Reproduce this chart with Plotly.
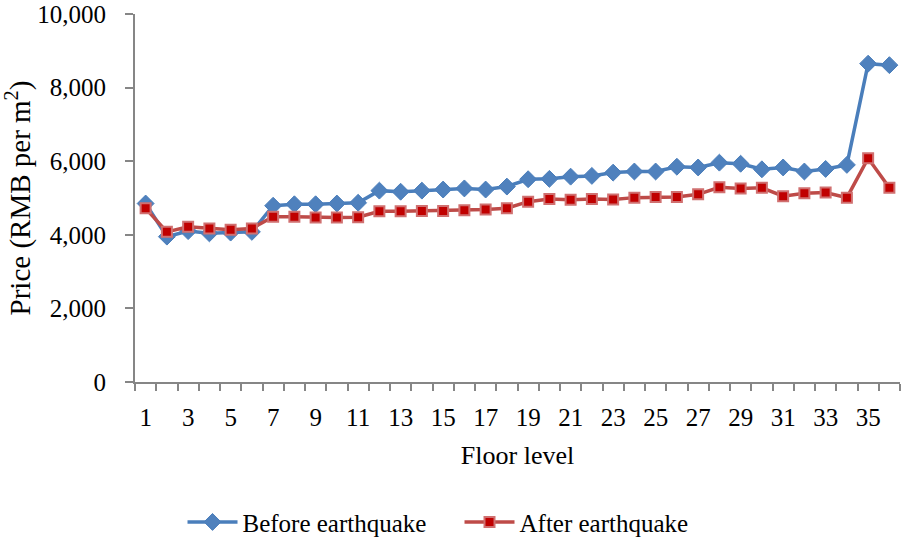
import plotly.graph_objects as go

# Floor levels and average prices (RMB per m²)
floors = list(range(1, 37))
before_quake = [4850, 3950, 4100, 4040, 4060, 4080, 4790, 4830, 4830, 4850, 4870, 5200,
                5170, 5200, 5230, 5260, 5230, 5310, 5510, 5520, 5580, 5600, 5690, 5720,
                5720, 5850, 5830, 5960, 5930, 5780, 5830, 5720, 5790, 5900, 8650, 8610]
after_quake = [4720, 4080, 4220, 4170, 4140, 4170, 4490, 4490, 4470, 4470, 4480, 4640,
               4640, 4650, 4650, 4670, 4690, 4720, 4900, 4970, 4950, 4970, 4960, 5010,
               5030, 5030, 5100, 5290, 5260, 5280, 5050, 5130, 5150, 5010, 6080, 5280]
x_labels = [str(f) for f in floors if f % 2 == 1]
y_ticks = [0, 2000, 4000, 6000, 8000, 10000]

FONT = "Liberation Serif, Times New Roman, serif"
AXIS = "#868686"

fig = go.Figure()
fig.add_trace(go.Scatter(
    x=floors, y=before_quake, mode="lines+markers", name="Before earthquake",
    line=dict(color="#4A7EBB", width=3.5),
    marker=dict(symbol="diamond", size=13, color="#4F81BD",
                line=dict(color="#4A7EBB", width=1)),
))
fig.add_trace(go.Scatter(
    x=floors, y=after_quake, mode="lines+markers", name="After earthquake",
    line=dict(color="#BE4B48", width=3.5),
    marker=dict(symbol="square", size=10, color="#C00000",
                line=dict(color="#D07070", width=2)),
))

fig.update_layout(
    width=901, height=540,
    margin=dict(l=135, r=1, t=14, b=158, autoexpand=False),
    paper_bgcolor="white", plot_bgcolor="white",
    font=dict(family=FONT, size=25, color="black"),
    showlegend=True,
    legend=dict(orientation="h", xref="container", yref="container",
                x=0.51, xanchor="center", y=0.033, yanchor="middle",
                font=dict(size=25), itemwidth=50, entrywidth=212, tracegroupgap=0),
    xaxis=dict(
        range=[0.5, 36.5], showgrid=False, zeroline=False, automargin=False,
        showline=True, linecolor=AXIS, linewidth=2,
        tickmode="array", tickvals=[f for f in floors if f % 2 == 1], ticktext=x_labels,
        ticks="", ticklabelstandoff=12, tickfont=dict(size=25),
        minor=dict(tickmode="array", tickvals=[f + 0.5 for f in range(0, 37)],
                   ticks="outside", ticklen=7, tickcolor=AXIS, tickwidth=1.5, showgrid=False),
        title=dict(text="Floor level", standoff=16, font=dict(size=26)),
    ),
    yaxis=dict(
        range=[0, 10000], showgrid=False, zeroline=False, automargin=False,
        showline=True, linecolor=AXIS, linewidth=2,
        tickmode="array", tickvals=y_ticks, tickformat=",d",
        ticks="outside", ticklen=8, tickcolor=AXIS, tickwidth=1.5,
        ticklabelstandoff=14, tickfont=dict(size=25),
        title=dict(text="Price (RMB per m<sup>2</sup>)", standoff=8, font=dict(size=29)),
    ),
)

fig.write_html("out.html")
